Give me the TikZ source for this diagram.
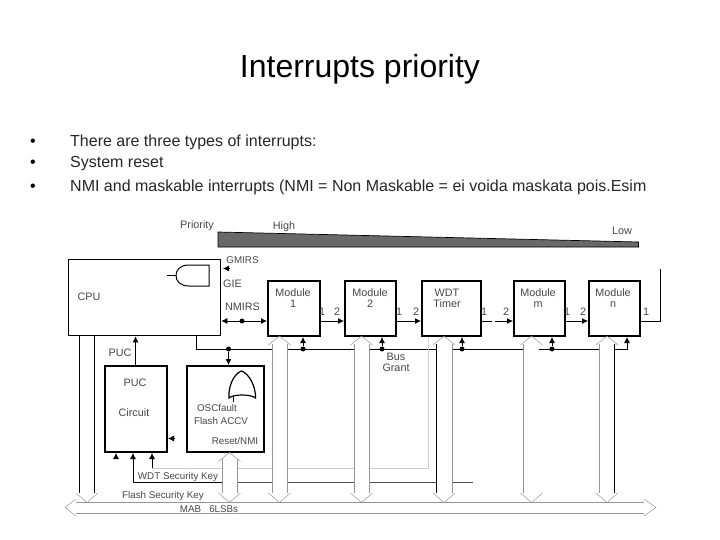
\documentclass[tikz,border=0pt]{standalone}
\usepackage{fontspec}
\setmainfont{Liberation Sans}
\usetikzlibrary{arrows.meta,positioning,calc}
\definecolor{busGray}{RGB}{150,150,150}
\definecolor{keyGray}{RGB}{205,205,205}
\definecolor{wedgeGray}{RGB}{105,105,105}
\definecolor{labelGray}{RGB}{70,70,70}
\tikzset{
  titlelbl/.style={font=\fontsize{32}{36}\selectfont},
  bodylbl/.style={font=\fontsize{16}{19}\selectfont, anchor=base west, inner sep=0pt, text=black!85},
  bulletlbl/.style={font=\fontsize{16}{19}\selectfont, anchor=base, inner sep=0pt},
  cpubox/.style={draw, line width=1.3pt, anchor=north west, inner sep=0pt},
  modbox/.style={draw, line width=2pt, anchor=north west, inner sep=0pt},
  lbl/.style={font=\fontsize{10.8}{11}\selectfont, text=labelGray, inner sep=0pt, align=center},
  smalllbl/.style={font=\fontsize{9.8}{11}\selectfont, text=labelGray, inner sep=0pt, align=center},
  sig/.style={line width=0.8pt},
  arrow/.style={-{Latex[length=6pt,width=6pt]}, line width=0.8pt},
  arrowboth/.style={{Latex[length=6pt,width=6pt]}-{Latex[length=6pt,width=6pt]}, line width=0.8pt},
  bus/.style={line width=0.8pt, draw=busGray},
  keyline/.style={line width=0.8pt, draw=keyGray},
  headline/.style={line width=0.5pt, draw=busGray},
  dot/.style={circle, fill=black, inner sep=0pt, minimum size=5pt}
}
% hollow arrow heads of the bus lines, #1 = centre x
\newcommand{\downhead}[1]{\draw[headline] (#1-11,493) -- (#1,502.5) -- (#1+11,493);}
\newcommand{\uphead}[2]{\draw[headline] (#1-11,#2+9) -- (#1,#2) -- (#1+11,#2+9);}
\begin{document}
\begin{tikzpicture}[x=1pt,y=-1pt]
  \useasboundingbox (0,0) rectangle (720,540);

  \node[titlelbl] (title) at (360,69.5) {Interrupts priority};
  \node[bulletlbl] (bul1) at (33,147) {•};
  \node[bulletlbl] (bul2) at (33,168) {•};
  \node[bulletlbl] (bul3) at (33,192) {•};
  \node[bodylbl] (line1) at (70,147) {There are three types of interrupts:};
  \node[bodylbl] (line2) at (70,168) {System reset};
  \node[bodylbl] (line3) at (70,192) {NMI and maskable interrupts (NMI = Non Maskable = ei voida maskata pois.Esim};

  % priority wedge
  \fill[wedgeGray, draw=black, line width=0.7pt] (218,232) -- (638.5,242) -- (638.5,247) -- (218,247) -- cycle;
  \node[lbl] (prio) at (197,226) {Priority};
  \node[lbl] (high) at (284,227) {High};
  \node[lbl] (low) at (622,231) {Low};

  % boxes
  \node[cpubox, minimum width=152.5pt, minimum height=76pt] (cpu) at (67.5,259) {};
  \node[modbox, minimum width=52pt, minimum height=55pt] (m1) at (267,280) {};
  \node[modbox, minimum width=51pt, minimum height=55pt] (m2) at (344,280) {};
  \node[modbox, minimum width=59pt, minimum height=55pt] (wdt) at (421,280) {};
  \node[modbox, minimum width=51pt, minimum height=55pt] (mm) at (513,280) {};
  \node[modbox, minimum width=51pt, minimum height=55pt] (mn) at (588,280) {};
  \node[modbox, minimum width=62pt, minimum height=86pt] (puc) at (104,365) {};
  \node[modbox, minimum width=77pt, minimum height=86pt] (nmi) at (186,365) {};

  \node[lbl] (cpul) at (89,297) {CPU};
  \node[lbl] (m1l) at (293,298.5) {Module\\1};
  \node[lbl] (m2l) at (370,298.5) {Module\\2};
  \node[lbl] (wdtl) at (447,298.5) {WDT\\Timer};
  \node[lbl] (mml) at (538,298.5) {Module\\m};
  \node[lbl] (mnl) at (613,298.5) {Module\\n};
  \node[lbl] (pucl) at (135,383) {PUC};
  \node[lbl] (cirl) at (134,413) {Circuit};
  \node[smalllbl] (oscl) at (217,408) {OSCfault};
  \node[smalllbl] (flal) at (221,421) {Flash ACCV};
  \node[smalllbl] (rstl) at (235,441) {Reset/NMI};
  \node[smalllbl] (gmi) at (242.5,260) {GMIRS};
  \node[lbl] (gie) at (232.5,284) {GIE};
  \node[lbl] (nmirs) at (242.5,307) {NMIRS};
  \node[lbl] (puct) at (120,353) {PUC};
  \node[lbl] (grant) at (396,362) {Bus\\Grant};
  \node[smalllbl] (wkey) at (178,477) {WDT Security Key};
  \node[smalllbl] (fkey) at (163,496) {Flash Security Key};
  \node[smalllbl] (mab) at (209,509) {MAB \ \ 6LSBs};

  % gates
  \draw[line width=1pt] (209,265) -- (209,286) -- (189,286) .. controls (180,286) and (176,281) .. (176,275.5) .. controls (176,270) and (180,265) .. (189,265) -- cycle;
  \draw[sig] (167,275.5) -- (176,275.5);
  \draw[line width=1.2pt] (229,398) .. controls (233,394) and (251,394) .. (255.5,398) .. controls (256,388) and (250,374) .. (241.5,371) .. controls (233,374) and (228,388) .. (229,398) -- cycle;
  \draw[sig] (233,396) -- (233,402);

  % module chain
  \coordinate (chain) at (0,321);
  \node[dot] (dnmi) at (242,321) {};
  \draw[arrowboth] (cpu.east |- chain) -- (m1.west |- chain);
  \draw[arrow] (m1.east |- chain) -- (m2.west |- chain);
  \draw[arrow] (m2.east |- chain) -- (wdt.west |- chain);
  \coordinate (gapa) at (492,321);
  \coordinate (gapb) at (495,321);
  \draw[sig] (wdt.east |- chain) -- (gapa);
  \draw[arrow] (gapb) -- (mm.west |- chain);
  \draw[arrow] (mm.east |- chain) -- (mn.west |- chain);
  \coordinate (backb) at (660,321);
  \coordinate (backt) at (660,269);
  \draw[sig] (mn.east |- chain) -- (backb) -- (backt);
  \node[lbl] (o1) at (322,312) {1};
  \node[lbl] (i2) at (337,312) {2};
  \node[lbl] (o2) at (399,312) {1};
  \node[lbl] (i3) at (416,312) {2};
  \node[lbl] (o3) at (484,312) {1};
  \node[lbl] (i4) at (506,312) {2};
  \node[lbl] (o4) at (567,312) {1};
  \node[lbl] (i5) at (583,312) {2};
  \node[lbl] (o5) at (646,312) {1};

  % single arrow tips
  \coordinate (gmia) at (229,268.5);
  \coordinate (gmib) at (223,268.5);
  \draw[arrow] (gmia) -- (gmib);
  \coordinate (tipa) at (116,458);
  \draw[arrow] (tipa) -- (tipa |- puc.south);
  \coordinate (tipr) at (173.5,438.5);
  \draw[arrow] (tipr) -- (puc.east |- tipr);

  % bus grant
  \coordinate (bga) at (196,349);
  \draw[sig] (bga |- cpu.south) -- (bga) -- (272,349);
  \draw[sig] (287,349) -- (354,349);
  \draw[sig] (369,349) -- (436,349);
  \draw[sig] (452,349) -- (523,349);
  \draw[sig] (539,349) -- (599,349);
  \node[dot] (dg0) at (228.5,349) {};
  \node[dot] (dg1) at (303,349) {};
  \node[dot] (dg2) at (382,349) {};
  \node[dot] (dg3) at (462,349) {};
  \node[dot] (dg4) at (552,349) {};
  \draw[arrow] (dg0) -- (dg0 |- nmi.north);
  \draw[arrow] (dg1) -- (dg1 |- m1.south);
  \draw[arrow] (dg2) -- (dg2 |- m2.south);
  \draw[arrow] (dg3) -- (dg3 |- wdt.south);
  \draw[arrow] (dg4) -- (dg4 |- mm.south);
  \coordinate (bgn) at (627,349);
  \draw[arrow] (614,349) -- (bgn) -- (bgn |- mn.south);

  % PUC lines
  \coordinate (pucup) at (135.5,350);
  \draw[arrow] (pucup |- puc.north) -- (pucup |- cpu.south);
  \coordinate (flk) at (133,482);
  \coordinate (wdk) at (152,468);
  \draw[arrow] (flk) -- (flk |- puc.south);
  \draw[arrow] (wdk) -- (wdk |- puc.south);
  \draw[sig] (flk) -- (222,482);
  \draw[sig, draw=black!70] (237,482) -- (272,482);
  \draw[sig, draw=black!70] (287,482) -- (354,482);
  \draw[sig, draw=black!70] (369,482) -- (436,482);
  \draw[sig, draw=black!70] (452,482) -- (473,482);
  \draw[keyline] (wdk) -- (222,468);
  \draw[keyline] (237,468) -- (272,468);
  \draw[keyline] (287,468) -- (354,468);
  \coordinate (wdkr) at (428.5,468);
  \draw[keyline] (369,468) -- (wdkr) -- (wdkr |- wdt.south);

  % bus stems
  \coordinate (cpul1) at (79.5,493);
  \coordinate (cpul2) at (94.5,493);
  \draw[sig] (cpul1 |- cpu.south) -- (cpul1);
  \draw[sig] (cpul2 |- cpu.south) -- (cpul2);
  \downhead{87}
  \draw[bus] (222,459) -- (222,493);
  \draw[bus] (237,459) -- (237,493);
  \uphead{229.5}{452.5}
  \downhead{229.5}
  \draw[bus] (272,344) -- (272,493);
  \draw[bus] (287,344) -- (287,493);
  \uphead{279.5}{336}
  \downhead{279.5}
  \draw[bus] (354,344) -- (354,493);
  \draw[bus] (369,344) -- (369,493);
  \uphead{361.5}{336}
  \downhead{361.5}
  \draw[sig] (436,344) -- (436,493);
  \draw[bus] (452,344) -- (452,493);
  \uphead{444}{336}
  \downhead{444}
  \draw[bus] (523.5,344) -- (523.5,493);
  \uphead{531.5}{336}
  \downhead{531.5}
  \draw[bus] (599,344) -- (599,493);
  \draw[sig] (614,344) -- (614,493);
  \uphead{607}{336}
  \downhead{607}

  % main bus
  \draw[bus] (76,502) -- (644,502);
  \draw[bus] (76,513) -- (644,513);
  \draw[headline] (76,499) -- (65,507.5) -- (76,516);
  \draw[headline] (644,499) -- (656,507.5) -- (644,516);
\end{tikzpicture}
\end{document}
